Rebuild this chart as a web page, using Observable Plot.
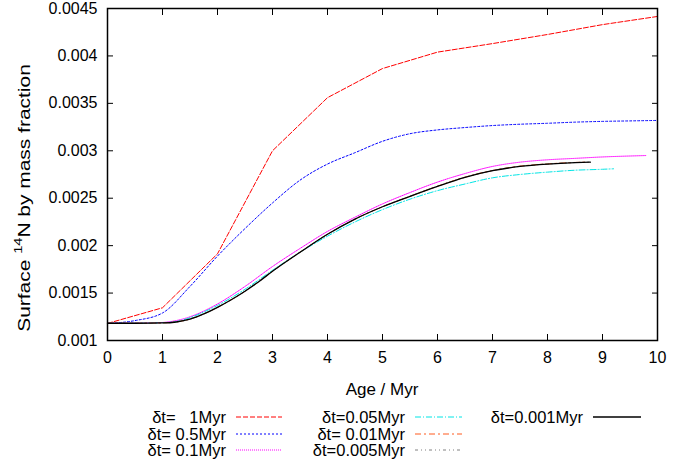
<!DOCTYPE html>
<html>
<head>
<meta charset="utf-8">
<script src="https://cdn.jsdelivr.net/npm/d3@7"></script>
<script src="https://cdn.jsdelivr.net/npm/@observablehq/plot@0.6"></script>
<style>
  html, body { margin: 0; padding: 0; background: #fff; }
  #wrap { position: relative; width: 696px; height: 466px; font-family: "Liberation Sans", Arial, sans-serif; }
  .lab { position: absolute; font-size: 16.5px; white-space: pre; text-align: right; line-height: 16px; color: #000; }
  .smp { position: absolute; }
</style>
</head>
<body>
<div id="wrap"></div>
<script>
// ---- data ----
const xTicks = [0,1,2,3,4,5,6,7,8,9,10];
const yTicks = [0.001,0.0015,0.002,0.0025,0.003,0.0035,0.004,0.0045];

const t1 = [0,1,2,3,4,5,6,7,8,9,10];
const n1 = [0.00118,0.001345,0.001914,0.003,0.00356,0.003867,0.00404,0.00413,0.004226,0.00433,0.004416];

const t05 = [0,0.5,1,1.5,2,2.5,3,3.5,4,4.5,5,5.5,6,6.5,7,7.5,8,8.5,9,9.5,10];
const n05 = [0.00118,0.00121,0.00129,0.00157,0.00189,0.00218,0.00245,0.00269,0.00286,0.00298,0.00310,0.00318,0.00322,0.003245,0.003266,0.00328,0.00329,0.003302,0.00331,0.003315,0.00332];

const t01 = [0,0.5,1,1.25,1.5,1.75,2,2.5,3,3.5,4,4.5,5,5.5,6,6.5,7,7.5,8,8.5,9,9.5,9.8];
const n01 = [0.001182,0.001183,0.00119,0.00121,0.00125,0.00131,0.001385,0.00157,0.00178,0.00197,0.00215,0.0023,0.00244,0.00256,0.00267,0.00276,0.002835,0.00288,0.002905,0.00292,0.002935,0.002945,0.00295];

const t005 = [0,0.5,1,1.25,1.5,1.75,2,2.5,3,3.5,4,4.5,5,5.5,6,6.5,7,7.5,8,8.5,9,9.2];
const n005 = [0.001182,0.001182,0.001188,0.0012,0.00124,0.0013,0.00137,0.00154,0.00174,0.00193,0.0021,0.00225,0.00238,0.00249,0.00258,0.00265,0.002715,0.00275,0.002775,0.002795,0.002805,0.00281];

const t001 = [0,0.5,1,1.25,1.5,1.75,2,2.25,2.5,2.75,3,3.5,4,4.5,5,5.5,6,6.5,7,7.5,8,8.5,8.7];
const n001 = [0.001182,0.001182,0.001186,0.001196,0.001226,0.00128,0.00135,0.00143,0.00152,0.00162,0.00173,0.00193,0.00212,0.00228,0.00241,0.00252,0.002627,0.002722,0.002792,0.002838,0.002862,0.002877,0.00288];

const t0005 = [0,0.5,1,1.25,1.5,1.75,2,2.25,2.5,2.75,3,3.5,4,4.5,5,5.5,6,6.5,7,7.5,8,8.5,8.75];
const n0005 = [0.001182,0.001182,0.001186,0.001195,0.001225,0.00128,0.00135,0.00143,0.00152,0.00162,0.00173,0.00193,0.00212,0.00228,0.00241,0.00252,0.002626,0.00272,0.00279,0.002836,0.00286,0.002876,0.00288];

const t0001 = [0,0.5,1,1.25,1.5,1.75,2,2.25,2.5,2.75,3,3.5,4,4.5,5,5.5,6,6.5,7,7.5,8,8.5,8.78];
const n0001 = [0.001182,0.001182,0.001185,0.001195,0.001225,0.00128,0.00135,0.00143,0.00152,0.00162,0.00173,0.00193,0.00212,0.00228,0.00241,0.00252,0.002625,0.00272,0.00279,0.002835,0.00286,0.002875,0.00288];

const series = [
  {label: "δt=   1Myr",  t: t1,    n: n1,    color: "#ff0000", dash: "5,2",         width: 1},
  {label: "δt= 0.5Myr",  t: t05,   n: n05,   color: "#0000ff", dash: "2,2",         width: 1},
  {label: "δt= 0.1Myr",  t: t01,   n: n01,   color: "#ff00ff", dash: "1,1",         width: 1},
  {label: "δt=0.05Myr",  t: t005,  n: n005,  color: "#00e5e5", dash: "6,2,1,2",     width: 1},
  {label: "δt= 0.01Myr", t: t001,  n: n001,  color: "#ff5a1e", dash: "6,3,2,3",     width: 1},
  {label: "δt=0.005Myr", t: t0005, n: n0005, color: "#808080", dash: "3,3,1,3,1,3", width: 1},
  {label: "δt=0.001Myr", t: t0001, n: n0001, color: "#000000", dash: null,          width: 1.3}
];

const fmt = d => String(+d.toFixed(4));

const marks = [];
for (const s of series) {
  const rows = s.t.map((t, i) => ({t, n: s.n[i]}));
  marks.push(Plot.line(rows, {
    x: "t", y: "n", stroke: s.color, strokeWidth: s.width,
    strokeDasharray: s.dash || undefined,
    curve: s.t === t1 ? "linear" : "monotone-x"
  }));
}
marks.push(
  Plot.axisX({anchor: "bottom", ticks: xTicks, tickSize: 0, tickPadding: 11, tickFormat: d => String(d), label: null}),
  Plot.axisX({anchor: "bottom", ticks: xTicks, tickSize: -6, tickFormat: () => "", label: null}),
  Plot.axisX({anchor: "top", ticks: xTicks, tickSize: -6, tickFormat: () => "", label: null}),
  Plot.axisY({anchor: "left", ticks: yTicks, tickSize: 0, tickPadding: 10, tickFormat: fmt, label: null}),
  Plot.axisY({anchor: "left", ticks: yTicks, tickSize: -6, tickFormat: () => "", label: null}),
  Plot.axisY({anchor: "right", ticks: yTicks, tickSize: -6, tickFormat: () => "", label: null}),
  Plot.frame({stroke: "#000", strokeWidth: 1.5})
);

const chart = Plot.plot({
  width: 696,
  height: 400,
  marginLeft: 107,
  marginRight: 39,
  marginTop: 8,
  marginBottom: 60,
  x: {domain: [0, 10]},
  y: {domain: [0.001, 0.0045]},
  style: {fontFamily: "Liberation Sans, Arial, sans-serif", fontSize: "16px", color: "#000", background: "#fff"},
  marks
});

const wrap = document.getElementById("wrap");
wrap.appendChild(chart);
chart.style.position = "absolute";
chart.style.left = "0px";
chart.style.top = "0px";

// axis titles
const svg = d3.select(chart);
svg.append("text")
  .attr("x", 382).attr("y", 391)
  .attr("text-anchor", "middle").attr("dominant-baseline", "middle")
  .attr("font-size", 17).attr("fill", "#000")
  .text("Age / Myr");
const yl = svg.append("text")
  .attr("transform", "translate(26,198) rotate(-90) scale(1.27,1)")
  .attr("text-anchor", "middle").attr("dominant-baseline", "middle")
  .attr("font-size", 16.5).attr("fill", "#000");
yl.append("tspan").text("Surface ");
yl.append("tspan").attr("font-size", 11.5).attr("dy", -7).text("14");
yl.append("tspan").attr("dy", 7).text("N by mass fraction");

// legend (below the SVG)
const cols = [
  {right: 226, x0: 236, x1: 282},
  {right: 405, x0: 415, x1: 462},
  {right: 583, x0: 593, x1: 641}
];
const rowsY = [417, 433.5, 450];
const slots = [[0,0],[0,1],[0,2],[1,0],[1,1],[1,2],[2,0]];
series.forEach((s, i) => {
  const [c, r] = slots[i];
  const col = cols[c], cy = rowsY[r];
  const lab = document.createElement("div");
  lab.className = "lab";
  lab.textContent = s.label;
  lab.style.right = (696 - col.right) + "px";
  lab.style.top = (cy - 8) + "px";
  wrap.appendChild(lab);
  const ns = "http://www.w3.org/2000/svg";
  const sm = document.createElementNS(ns, "svg");
  sm.setAttribute("class", "smp");
  sm.setAttribute("width", col.x1 - col.x0);
  sm.setAttribute("height", 6);
  sm.style.left = col.x0 + "px";
  sm.style.top = (cy - 3) + "px";
  const ln = document.createElementNS(ns, "line");
  ln.setAttribute("x1", 0); ln.setAttribute("x2", col.x1 - col.x0);
  ln.setAttribute("y1", 3); ln.setAttribute("y2", 3);
  ln.setAttribute("stroke", s.color);
  ln.setAttribute("stroke-width", s.width);
  if (s.dash) ln.setAttribute("stroke-dasharray", s.dash);
  sm.appendChild(ln);
  wrap.appendChild(sm);
});
</script>
</body>
</html>
